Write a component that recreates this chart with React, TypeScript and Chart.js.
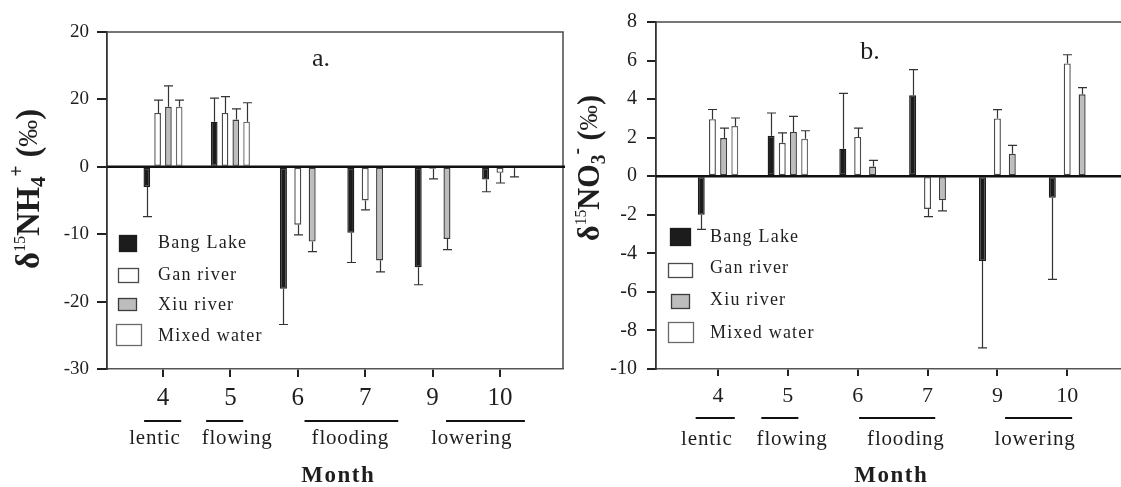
import React, { useEffect, useRef } from 'react';
import { Chart, registerables } from 'chart.js';

Chart.register(...registerables);

// ---------------- data ----------------
const months = ['4', '5', '6', '7', '9', '10'];
const seriesNames = ['Bang Lake', 'Gan river', 'Xiu river', 'Mixed water'];
const phaseNames = ['lentic', 'flowing', 'flooding', 'lowering'];

// panel a: δ15NH4+ (values in axis units)
const nh4Bang = [-3.0, 6.7, -18.1, -9.8, -14.9, -1.9];
const nh4BangErr = [4.4, 3.5, 5.3, 4.4, 2.6, 1.8];
const nh4Gan = [8.0, 8.0, -8.6, -5.0, -0.3, -0.9];
const nh4GanErr = [1.9, 2.4, 1.5, 1.4, 1.5, 1.5];
const nh4Xiu = [8.9, 7.0, -11.1, -13.9, -10.7, -0.2];
const nh4XiuErr = [3.1, 1.6, 1.5, 1.7, 1.6, 1.3];
const nh4Mixed = [8.9, 6.7, null, null, null, null];
const nh4MixedErr = [1.0, 2.8, null, null, null, null];
const nh4TickLabels = ['-30', '-20', '-10', '0', '20', '20'];

// panel b: δ15NO3-
const no3Bang = [-2.0, 2.1, 1.43, 4.2, -4.4, -1.12];
const no3BangErr = [0.76, 1.18, 2.87, 1.33, 4.5, 4.23];
const no3Gan = [2.96, 1.73, 2.04, -1.7, 3.0, 5.85];
const no3GanErr = [0.5, 0.52, 0.46, 0.4, 0.45, 0.45];
const no3Xiu = [1.98, 2.3, 0.5, -1.25, 1.16, 4.25];
const no3XiuErr = [0.52, 0.8, 0.32, 0.55, 0.44, 0.35];
const no3Mixed = [2.6, 1.94, null, null, null, null];
const no3MixedErr = [0.42, 0.42, null, null, null, null];
const no3TickLabels = ['-10', '-8', '-6', '-4', '-2', '0', '2', '4', '6', '8'];

// ---------------- style ----------------
const FONT = '"Liberation Serif", "Times New Roman", serif';
const INK = '#1e1e1e';
const seriesFill = ['#1c1c1c', '#ffffff', '#bdbdbd', '#ffffff'];
const seriesBorder = ['#1c1c1c', '#4a4a4a', '#3c3c3c', '#6a6a6a'];

type Seg = { text: string; size: number; bold: boolean; dy: number };

const X_AXIS_H = 50;

const panels = [
  {
    key: 'a',
    pageLeft: 0,
    width: 580,
    pad: { top: 32, right: 17, bottom: 118 },
    yWidth: 107,
    yMin: -30, yMax: 20, yStep: 10,
    yTickLabels: nh4TickLabels,
    yTickSize: 19, yTickTickLen: 10, yTickPad: 8,
    xMin: 0.169, xMax: 6.935,
    xTickSize: 25, xTickLen: 8, xTickPad: 6,
    values: [nh4Bang, nh4Gan, nh4Xiu, nh4Mixed],
    errors: [nh4BangErr, nh4GanErr, nh4XiuErr, nh4MixedErr],
    rightBorder: true,
    letter: { text: 'a.', x: 321, y: 66 },
    legend: {
      boxes: [
        { x: 119, y: 235, w: 18, h: 17 },
        { x: 118, y: 268, w: 21, h: 15 },
        { x: 118, y: 298, w: 19, h: 13 },
        { x: 116, y: 324, w: 26, h: 22 },
      ],
      textX: 158,
      textY: [243, 275, 305, 336],
      size: 18,
    },
    phaseLines: [[0.72, 1.27], [1.64, 2.19], [3.1, 4.49], [5.2, 6.37]],
    phaseText: [0.88, 2.1, 3.78, 5.58],
    phaseLineY: 421, phaseTextY: 438, phaseSize: 21,
    monthX: 3.6, monthY: 476,
    title: {
      cx: 27, cy: 189, len: 160, base: 12,
      segs: [
        { text: 'δ', size: 34, bold: true, dy: 0 },
        { text: '15', size: 17, bold: false, dy: -14 },
        { text: 'NH', size: 34, bold: true, dy: 0 },
        { text: '4', size: 22, bold: true, dy: 6 },
        { text: '+', size: 20, bold: true, dy: -16 },
        { text: ' (', size: 34, bold: true, dy: 0 },
        { text: '‰', size: 28, bold: false, dy: -2 },
        { text: ')', size: 34, bold: true, dy: 0 },
      ] as Seg[],
    },
  },
  {
    key: 'b',
    pageLeft: 560,
    width: 561,
    pad: { top: 16, right: 0, bottom: 118 },
    yWidth: 96,
    yMin: -10, yMax: 8, yStep: 2,
    yTickLabels: no3TickLabels,
    yTickSize: 20, yTickTickLen: 9, yTickPad: 10,
    xMin: 0.112, xMax: 6.77,
    xTickSize: 22, xTickLen: 7, xTickPad: 7,
    values: [no3Bang, no3Gan, no3Xiu, no3Mixed],
    errors: [no3BangErr, no3GanErr, no3XiuErr, no3MixedErr],
    rightBorder: false,
    letter: { text: 'b.', x: 310, y: 59 },
    legend: {
      boxes: [
        { x: 110, y: 228, w: 21, h: 18 },
        { x: 108, y: 263, w: 25, h: 15 },
        { x: 111, y: 294, w: 19, h: 15 },
        { x: 108, y: 322, w: 26, h: 21 },
      ],
      textX: 150,
      textY: [237, 268, 300, 333],
      size: 18,
    },
    phaseLines: [[0.68, 1.24], [1.62, 2.15], [3.02, 4.11], [5.11, 6.07]],
    phaseText: [0.84, 2.06, 3.69, 5.54],
    phaseLineY: 418, phaseTextY: 439, phaseSize: 21,
    monthX: 3.48, monthY: 476,
    title: {
      cx: 28, cy: 168, len: 146, base: 11,
      segs: [
        { text: 'δ', size: 31, bold: true, dy: 0 },
        { text: '15', size: 16, bold: false, dy: -13 },
        { text: 'NO', size: 31, bold: true, dy: 0 },
        { text: '3', size: 20, bold: true, dy: 6 },
        { text: '-', size: 20, bold: true, dy: -16 },
        { text: ' (', size: 31, bold: true, dy: 0 },
        { text: '‰', size: 26, bold: false, dy: -2 },
        { text: ')', size: 31, bold: true, dy: 0 },
      ] as Seg[],
    },
  },
];

type PanelCfg = (typeof panels)[number];

function setSpacing(ctx: any, v: string) {
  if ('letterSpacing' in ctx) ctx.letterSpacing = v;
}

function drawRotatedRich(ctx: CanvasRenderingContext2D, t: PanelCfg['title']) {
  ctx.save();
  ctx.translate(t.cx, t.cy);
  ctx.rotate(-Math.PI / 2);
  const widths: number[] = [];
  let total = 0;
  t.segs.forEach((s) => {
    ctx.font = `${s.bold ? 'bold ' : ''}${s.size}px ${FONT}`;
    const w = ctx.measureText(s.text).width;
    widths.push(w);
    total += w;
  });
  const sx = t.len / total;
  ctx.scale(sx, 1);
  let x = -total / 2;
  ctx.textBaseline = 'alphabetic';
  ctx.textAlign = 'left';
  ctx.fillStyle = INK;
  t.segs.forEach((s, i) => {
    ctx.font = `${s.bold ? 'bold ' : ''}${s.size}px ${FONT}`;
    ctx.fillText(s.text, x, t.base + s.dy);
    x += widths[i];
  });
  ctx.restore();
}

function makeChart(canvas: HTMLCanvasElement, p: PanelCfg) {
  const datasets = p.values.map((vals, si) => ({
    label: seriesNames[si],
    data: vals.map((v, i) => ({ x: i + 1, y: v })),
    backgroundColor: seriesFill[si],
    borderColor: seriesBorder[si],
    borderWidth: 1.4,
    borderSkipped: false,
    categoryPercentage: 0.64,
    barPercentage: 0.62,
    maxBarThickness: 7,
    skipNull: true,
  }));

  const framePlugin = {
    id: 'frame' + p.key,
    beforeDatasetsDraw(chart: any) {
      const { ctx, chartArea } = chart;
      ctx.save();
      ctx.strokeStyle = '#4a4a4a';
      ctx.lineWidth = 1.5;
      ctx.beginPath();
      ctx.moveTo(chartArea.left, chartArea.top);
      ctx.lineTo(chartArea.right, chartArea.top);
      if (p.rightBorder) ctx.lineTo(chartArea.right, chartArea.bottom);
      ctx.stroke();
      ctx.restore();
    },
    afterDatasetsDraw(chart: any) {
      const { ctx, chartArea, scales } = chart;
      const yS = scales.y;
      const y0 = yS.getPixelForValue(0);
      ctx.save();
      ctx.strokeStyle = '#111';
      ctx.lineWidth = 2.5;
      ctx.beginPath();
      ctx.moveTo(chartArea.left, y0);
      ctx.lineTo(chartArea.right + (p.rightBorder ? 2 : 0), y0);
      ctx.stroke();
      ctx.strokeStyle = '#333';
      ctx.lineWidth = 1.2;
      chart.data.datasets.forEach((ds: any, di: number) => {
        const meta = chart.getDatasetMeta(di);
        meta.data.forEach((el: any, i: number) => {
          const v = ds.data[i].y;
          const e = p.errors[di][i];
          if (v == null || e == null) return;
          const end = v + (v >= 0 ? e : -e);
          const py = yS.getPixelForValue(end);
          const x = Math.round(el.x) + 0.5;
          ctx.beginPath();
          ctx.moveTo(x, el.y);
          ctx.lineTo(x, py);
          ctx.moveTo(x - 4.5, py);
          ctx.lineTo(x + 4.5, py);
          ctx.stroke();
        });
      });
      ctx.restore();
    },
    afterDraw(chart: any) {
      const { ctx, scales } = chart;
      const xS = scales.x;
      ctx.save();
      ctx.fillStyle = INK;
      ctx.font = `26px ${FONT}`;
      ctx.textAlign = 'center';
      ctx.textBaseline = 'alphabetic';
      ctx.fillText(p.letter.text, p.letter.x, p.letter.y);
      const lg = p.legend;
      lg.boxes.forEach((b, i) => {
        ctx.fillStyle = seriesFill[i];
        ctx.fillRect(b.x, b.y, b.w, b.h);
        ctx.strokeStyle = seriesBorder[i];
        ctx.lineWidth = 1.3;
        ctx.strokeRect(b.x + 0.5, b.y + 0.5, b.w - 1, b.h - 1);
        ctx.fillStyle = INK;
        ctx.font = `${lg.size}px ${FONT}`;
        ctx.textAlign = 'left';
        ctx.textBaseline = 'middle';
        setSpacing(ctx, '1.2px');
        ctx.fillText(seriesNames[i], lg.textX, lg.textY[i]);
        setSpacing(ctx, '0px');
      });
      ctx.strokeStyle = '#111';
      ctx.lineWidth = 2;
      p.phaseLines.forEach((seg, i) => {
        const a = xS.getPixelForValue(seg[0]);
        const b = xS.getPixelForValue(seg[1]);
        ctx.beginPath();
        ctx.moveTo(a, p.phaseLineY);
        ctx.lineTo(b, p.phaseLineY);
        ctx.stroke();
        ctx.fillStyle = INK;
        ctx.font = `${p.phaseSize}px ${FONT}`;
        ctx.textAlign = 'center';
        ctx.textBaseline = 'middle';
        setSpacing(ctx, '0.8px');
        ctx.fillText(phaseNames[i], xS.getPixelForValue(p.phaseText[i]), p.phaseTextY);
        setSpacing(ctx, '0px');
      });
      ctx.font = `bold 23px ${FONT}`;
      ctx.textAlign = 'center';
      ctx.textBaseline = 'middle';
      setSpacing(ctx, '1.5px');
      ctx.fillText('Month', xS.getPixelForValue(p.monthX), p.monthY);
      setSpacing(ctx, '0px');
      ctx.restore();
      drawRotatedRich(ctx, p.title);
    },
  };

  return new Chart(canvas, {
    type: 'bar',
    data: { datasets } as any,
    options: {
      responsive: false,
      maintainAspectRatio: false,
      animation: false,
      devicePixelRatio: 1,
      layout: {
        autoPadding: false,
        padding: { left: 0, top: p.pad.top, right: p.pad.right, bottom: p.pad.bottom - X_AXIS_H },
      },
      plugins: { legend: { display: false }, tooltip: { enabled: false }, title: { display: false } },
      scales: {
        x: {
          type: 'linear',
          min: p.xMin,
          max: p.xMax,
          offset: false,
          afterBuildTicks: (s: any) => {
            s.ticks = months.map((_, i) => ({ value: i + 1 }));
          },
          afterFit: (s: any) => {
            s.height = X_AXIS_H;
          },
          ticks: {
            autoSkip: false,
            maxRotation: 0,
            padding: p.xTickPad,
            color: INK,
            font: { family: FONT, size: p.xTickSize },
            callback: (v: any) => months[Math.round(Number(v)) - 1] ?? '',
          },
          grid: {
            display: true, offset: false, drawOnChartArea: false, drawTicks: true,
            tickLength: p.xTickLen, color: '#222', lineWidth: 2,
          },
          border: { display: true, color: '#555', width: 1.5 },
        },
        y: {
          type: 'linear',
          min: p.yMin,
          max: p.yMax,
          afterFit: (s: any) => {
            s.width = p.yWidth;
          },
          ticks: {
            stepSize: p.yStep,
            padding: p.yTickPad,
            color: INK,
            font: { family: FONT, size: p.yTickSize },
            callback: (_v: any, i: number) => p.yTickLabels[i],
          },
          grid: {
            display: true, drawOnChartArea: false, drawTicks: true,
            tickLength: p.yTickTickLen, color: '#222', lineWidth: 2,
          },
          border: { display: true, color: '#333', width: 1.8 },
        },
      },
    } as any,
    plugins: [framePlugin],
  });
}

function Panel({ p }: { p: PanelCfg }) {
  const ref = useRef<HTMLCanvasElement | null>(null);
  useEffect(() => {
    if (!ref.current) return;
    const chart = makeChart(ref.current, p);
    return () => chart.destroy();
  }, [p]);
  return (
    <canvas
      ref={ref}
      width={p.width}
      height={487}
      style={{ position: 'absolute', left: p.pageLeft, top: 0, width: p.width, height: 487 }}
    />
  );
}

export default function App() {
  return (
    <div style={{ position: 'fixed', left: 0, top: 0, width: 1121, height: 487, background: '#ffffff', overflow: 'hidden' }}>
      {panels.map((p) => (
        <Panel key={p.key} p={p} />
      ))}
    </div>
  );
}
